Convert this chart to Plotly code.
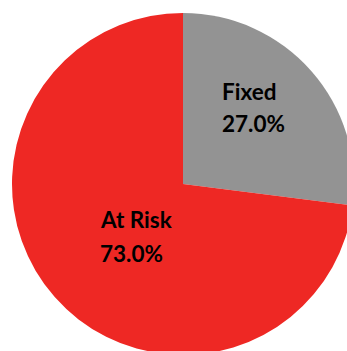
import plotly.graph_objects as go

labels = ["Fixed", "At Risk"]
values = [27.0, 73.0]
colors = ["#939393", "#EE2824"]

W, H = 354, 355
ML, MT = 12, 13
PW, PH = W - ML, H - MT

def px_to_paper(x, y):
    return (x - ML) / PW, 1 - (y - MT) / PH

fig = go.Figure(go.Pie(
    labels=labels,
    values=values,
    sort=False,
    direction="clockwise",
    rotation=0,
    marker=dict(colors=colors, line=dict(width=0)),
    textinfo="none",
    hoverinfo="skip",
))

total = sum(values)
# text block placement (pixel positions of left edge, label line centre, percent line centre)
label_pos = [(220, 91.5, 123.5), (98, 219.5, 253.5)]
font = dict(family="Lato", size=22.5, color="#000000")
for lab, val, (x, yl, yp) in zip(labels, values, label_pos):
    ax, ay = px_to_paper(x, yl)
    fig.add_annotation(x=ax, y=ay, xref="paper", yref="paper", text=f"<b>{lab}</b>",
                       showarrow=False, xanchor="left", yanchor="middle", font=font)
    ax, ay = px_to_paper(x, yp)
    fig.add_annotation(x=ax, y=ay, xref="paper", yref="paper", text=f"<b>{val / total * 100:.1f}%</b>",
                       showarrow=False, xanchor="left", yanchor="middle", font=font)

fig.update_layout(
    width=W, height=H,
    margin=dict(l=ML, t=MT, r=0, b=0, pad=0),
    showlegend=False,
    paper_bgcolor="white",
)
fig.write_html("out.html", config={"displayModeBar": False},
               post_script="document.body.style.overflow='hidden';document.documentElement.style.overflow='hidden';")
